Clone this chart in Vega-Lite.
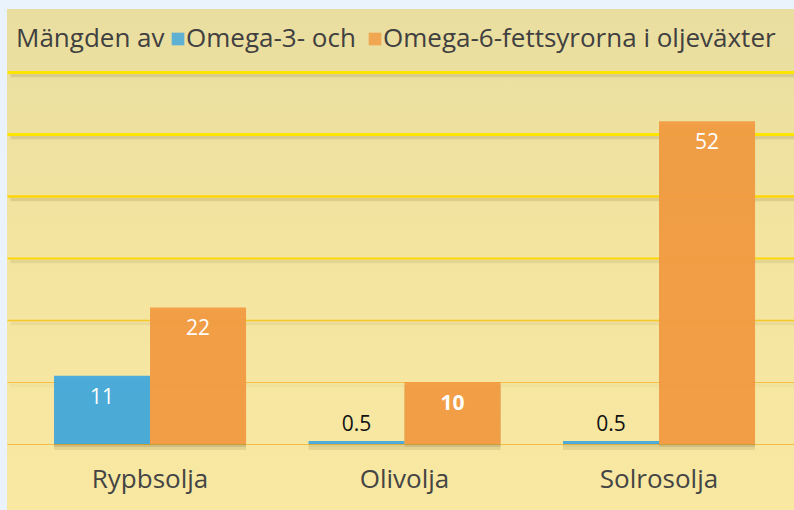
{
  "$schema": "https://vega.github.io/schema/vega-lite/v6.json",
  "width": 787,
  "height": 501,
  "autosize": {"type": "none"},
  "padding": {"left": 7, "top": 9, "right": 0, "bottom": 0},
  "background": "#eaf2fb",
  "config": {
    "view": {"stroke": null, "fill": {"gradient": "linear", "x1": 0, "y1": 0, "x2": 0, "y2": 1, "stops": [{"offset": 0, "color": "#e9dea0"}, {"offset": 0.45, "color": "#f3e4a0"}, {"offset": 1, "color": "#f8e8a2"}]}},
    "font": "Open Sans"
  },
  "data": {
    "values": [
      {"olja": "Rypbsolja", "fettsyra": "Omega-3", "varde": 11},
      {"olja": "Rypbsolja", "fettsyra": "Omega-6", "varde": 22},
      {"olja": "Olivolja", "fettsyra": "Omega-3", "varde": 0.5},
      {"olja": "Olivolja", "fettsyra": "Omega-6", "varde": 10},
      {"olja": "Solrosolja", "fettsyra": "Omega-3", "varde": 0.5},
      {"olja": "Solrosolja", "fettsyra": "Omega-6", "varde": 52}
    ]
  },
  "resolve": {"axis": {"y": "independent"}},
  "encoding": {
    "x": {
      "field": "olja", "type": "nominal", "sort": null,
      "scale": {"paddingInner": 0.2456, "paddingOuter": 0.169, "align": 0.547},
      "axis": {"orient": "bottom", "domain": false, "ticks": false, "tickSize": 0, "grid": false, "title": null, "labelAngle": 0, "labelFontSize": 26, "labelFont": "Open Sans", "labelColor": "#444444", "labelPadding": -23, "labelBaseline": "alphabetic"}
    },
    "xOffset": {"field": "fettsyra", "type": "nominal", "sort": ["Omega-3", "Omega-6"], "scale": {"paddingInner": 0, "paddingOuter": 0}},
    "y2": {"datum": 0}
  },
  "layer": [
    {
      "mark": {"type": "bar", "color": "#5a4a20", "opacity": 0.12, "xOffset": 7, "x2Offset": 7, "yOffset": 6, "y2Offset": 6},
      "encoding": {
        "y": {
          "field": "varde", "type": "quantitative",
          "scale": {"domain": [-10.64, 70.1], "nice": false, "zero": false},
          "axis": {
            "orient": "right", "domain": false, "ticks": false, "labels": false, "title": null,
            "values": [0, 10, 20, 30, 40, 50, 60], "translate": 3.5,
            "grid": true, "gridColor": "#6e6030", "gridWidth": 3.5,
            "gridOpacity": {"condition": [{"test": "datum.value >= 40", "value": 0.16}, {"test": "datum.value >= 30", "value": 0.12}, {"test": "datum.value >= 20", "value": 0.08}, {"test": "datum.value >= 10", "value": 0.04}], "value": 0}
          }
        }
      }
    },
    {
      "mark": {"type": "bar", "color": "#5a4a20", "opacity": 0.16, "xOffset": 3, "x2Offset": 3, "yOffset": 3, "y2Offset": 3},
      "encoding": {"y": {"field": "varde", "type": "quantitative", "axis": null}}
    },
    {
      "mark": {"type": "bar", "opacity": 0.95},
      "encoding": {
        "y": {
          "field": "varde", "type": "quantitative",
          "axis": {
            "orient": "left", "domain": false, "ticks": false, "labels": false, "title": null,
            "values": [0, 10, 20, 30, 40, 50, 60],
            "grid": true,
            "gridColor": {"condition": [{"test": "datum.value >= 50", "value": "#ffe400"}, {"test": "datum.value >= 30", "value": "#fdd60a"}, {"test": "datum.value >= 20", "value": "#f7c62a"}], "value": "#f5bd45"},
            "gridWidth": {"condition": [{"test": "datum.value >= 50", "value": 3}, {"test": "datum.value >= 40", "value": 2.5}, {"test": "datum.value >= 30", "value": 2}, {"test": "datum.value >= 20", "value": 1.5}, {"test": "datum.value >= 10", "value": 1.2}], "value": 1}
          }
        },
        "color": {
          "field": "fettsyra", "type": "nominal",
          "scale": {"domain": ["Omega-3", "Omega-6"], "range": ["#45a9dc", "#f29c43"]},
          "legend": {
            "orient": "none", "legendX": 9, "legendY": 17, "direction": "horizontal",
            "title": "Mängden av", "titleOrient": "left", "titleFont": "Open Sans", "titleFontSize": 26, "titleFontWeight": "normal", "titleColor": "#404040", "titlePadding": 0, "titleLimit": 400,
            "labelFont": "Open Sans", "labelFontSize": 26, "labelColor": "#404040", "labelLimit": 600, "labelOffset": -5,
            "labelExpr": "datum.label == 'Omega-3' ? 'Omega-3- och' : 'Omega-6-fettsyrorna i oljeväxter'",
            "symbolType": "square", "symbolSize": 160, "symbolStrokeWidth": 0, "symbolOpacity": 0.85, "columnPadding": 6
          }
        }
      }
    },
    {
      "transform": [{"filter": "datum.varde >= 5"}],
      "mark": {"type": "text", "color": "#ffffff", "baseline": "top", "dy": 11, "fontSize": 21, "font": "Open Sans", "fontWeight": {"expr": "datum.varde == 10 ? 'bold' : 'normal'"}},
      "encoding": {
        "y": {"field": "varde", "type": "quantitative", "axis": null},
        "text": {"field": "varde", "type": "quantitative"}
      }
    },
    {
      "transform": [{"filter": "datum.varde < 5"}],
      "mark": {"type": "text", "color": "#111111", "baseline": "bottom", "dy": -6, "fontSize": 21, "font": "Open Sans"},
      "encoding": {
        "y": {"field": "varde", "type": "quantitative", "axis": null},
        "text": {"field": "varde", "type": "quantitative", "format": ".1f"}
      }
    }
  ]
}
